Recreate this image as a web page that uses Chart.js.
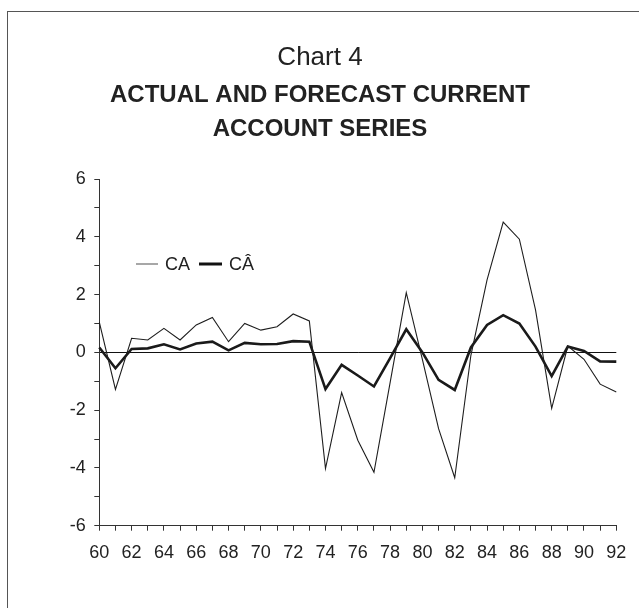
<!DOCTYPE html>
<html>
<head>
<meta charset="utf-8">
<style>
  html, body { margin: 0; padding: 0; background: #fff; overflow: hidden; }
  #wrap { position: relative; width: 639px; height: 608px; }
  #frame { position: absolute; left: 7px; top: 11px; width: 700px; height: 700px;
           border-left: 1px solid #555; border-top: 1px solid #555; }
  canvas { position: absolute; left: 0; top: 0; }
</style>
</head>
<body>
<div id="wrap">
  <div id="frame"></div>
  <canvas id="chart" width="639" height="608"></canvas>
</div>
<script src="https://cdn.jsdelivr.net/npm/chart.js@4/dist/chart.umd.min.js"></script>
<script>
const years = [60, 61, 62, 63, 64, 65, 66, 67, 68, 69, 70, 71, 72, 73, 74, 75, 76,
  77, 78, 79, 80, 81, 82, 83, 84, 85, 86, 87, 88, 89, 90, 91, 92];

// actual current account
const actual = [1.05, -1.28, 0.49, 0.43, 0.83, 0.43, 0.95, 1.21, 0.37, 1.0, 0.77,
  0.89, 1.33, 1.09, -4.02, -1.39, -3.04, -4.15, -1.05, 2.07, -0.25, -2.64, -4.34,
  -0.1, 2.51, 4.51, 3.92, 1.47, -1.94, 0.22, -0.24, -1.1, -1.37];

// forecast
const forecast = [0.17, -0.55, 0.12, 0.14, 0.28, 0.1, 0.31, 0.37, 0.07, 0.33, 0.28,
  0.29, 0.39, 0.37, -1.27, -0.43, -0.8, -1.18, -0.2, 0.8, 0.0, -0.95, -1.3,
  0.17, 0.95, 1.29, 1.0, 0.2, -0.82, 0.2, 0.05, -0.31, -0.32];

const yTicks = [-6, -4, -2, 0, 2, 4, 6];

const FONT = "'Liberation Sans', Arial, sans-serif";
Chart.defaults.font.family = FONT;
Chart.defaults.color = "#222";

// legend sits inside the plot, so draw it by hand
const inlineLegend = {
  id: "inlineLegend",
  afterDraw(chart) {
    const c = chart.ctx;
    const y = 264;
    const items = [
      { x: 136, w: 22, lw: 1.3, color: "#777", text: chart.data.datasets[0].label },
      { x: 199, w: 23, lw: 3, color: "#111", text: chart.data.datasets[1].label }
    ];
    c.save();
    c.font = "18px " + FONT;
    c.textBaseline = "middle";
    c.fillStyle = "#222";
    items.forEach(it => {
      c.beginPath();
      c.strokeStyle = it.color;
      c.lineWidth = it.lw;
      c.moveTo(it.x, y);
      c.lineTo(it.x + it.w, y);
      c.stroke();
      c.fillText(it.text, it.x + it.w + 7, y + 1);
    });
    c.restore();
  }
};

new Chart(document.getElementById("chart"), {
  type: "line",
  data: {
    labels: years.map(String),
    datasets: [
      {
        label: "CA",
        data: actual,
        borderColor: "#1e1e1e",
        borderWidth: 1.1,
        pointRadius: 0,
        tension: 0
      },
      {
        label: "CÂ",
        data: forecast,
        borderColor: "#1a1a1a",
        borderWidth: 2.6,
        pointRadius: 0,
        tension: 0
      }
    ]
  },
  options: {
    responsive: false,
    animation: false,
    layout: { padding: { top: 0, left: 23.7, right: 22.7, bottom: 32.3 } },
    plugins: {
      legend: { display: false },
      tooltip: { enabled: false },
      title: {
        display: true,
        text: "Chart 4",
        color: "#222",
        font: { size: 26, weight: "normal", lineHeight: 1.2 },
        padding: { top: 42.4, bottom: 5.25 }
      },
      subtitle: {
        display: true,
        text: ["ACTUAL AND FORECAST CURRENT", "ACCOUNT SERIES"],
        color: "#222",
        font: { size: 24, weight: "bold", lineHeight: 1.39 },
        padding: { top: 0, bottom: 33.5 }
      }
    },
    scales: {
      x: {
        offset: false,
        afterFit: s => { s.height = 50; },
        border: { display: true, color: "#333", width: 1 },
        grid: { drawOnChartArea: false, drawTicks: true, tickLength: 5, tickColor: "#333", offset: false },
        ticks: {
          autoSkip: false,
          maxRotation: 0,
          padding: 11.5,
          font: { size: 18 },
          callback: (v, i) => (years[i] % 2 === 0 ? String(years[i]) : "")
        }
      },
      y: {
        min: -6,
        max: 6,
        afterFit: s => { s.width = 99.3 - 23.7; },
        border: { display: true, color: "#333", width: 1 },
        grid: {
          drawOnChartArea: true,
          tickLength: 5,
          tickColor: "#333",
          color: ctx => (ctx.tick && ctx.tick.value === 0 ? "#111" : "rgba(0,0,0,0)")
        },
        ticks: {
          stepSize: 1,
          padding: 8.5,
          font: { size: 18 },
          callback: v => (yTicks.includes(v) ? String(v) : "")
        }
      }
    }
  },
  plugins: [inlineLegend]
});
</script>
</body>
</html>
